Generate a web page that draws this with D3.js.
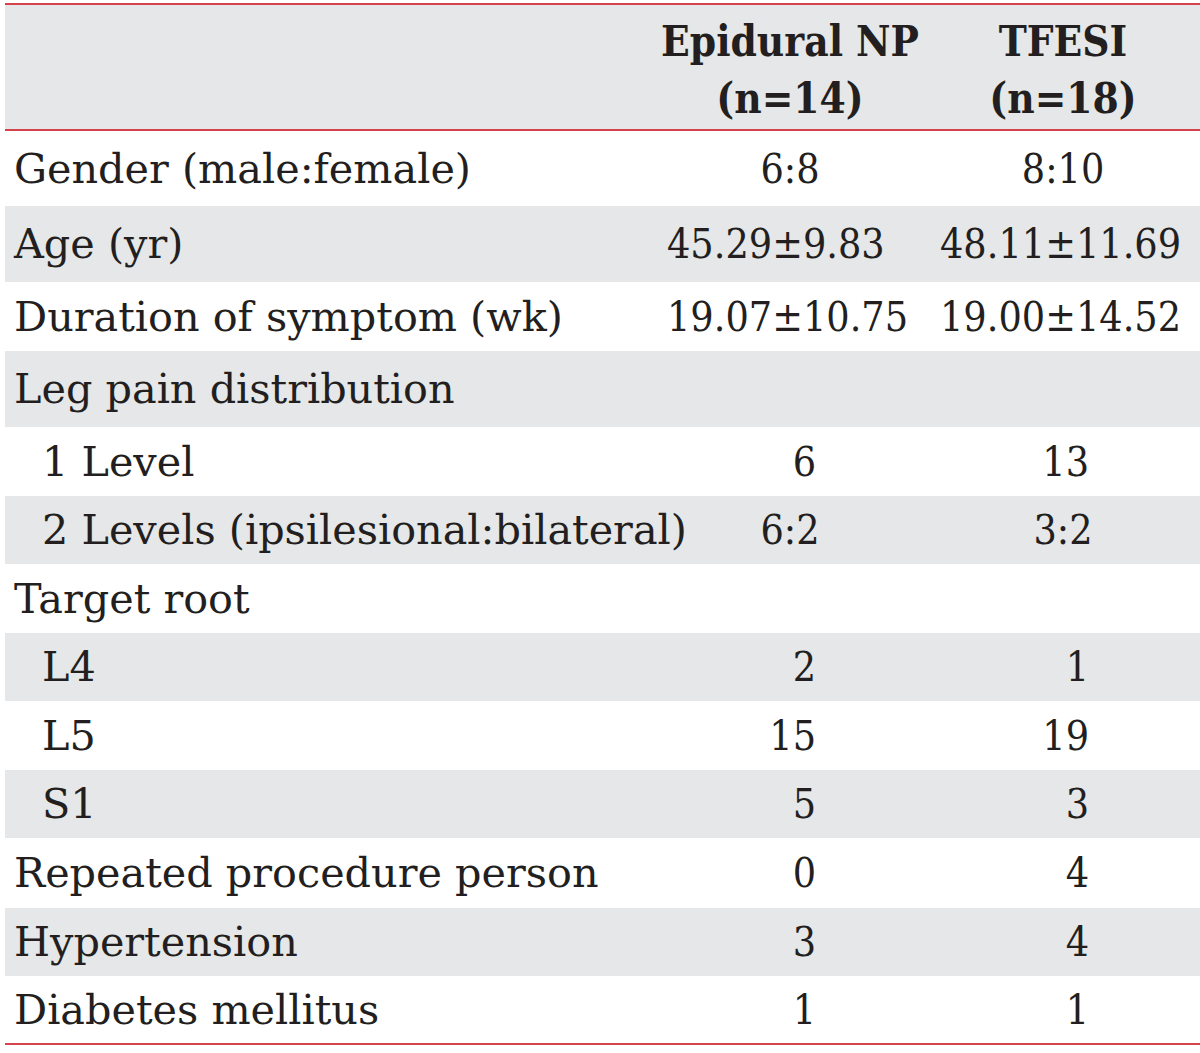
<!DOCTYPE html>
<html><head><meta charset="utf-8">
<script src="https://cdn.jsdelivr.net/npm/d3@7"></script>
<style>html,body{margin:0;padding:0;background:#fff;}svg{display:block;}</style>
</head><body>
<svg id="chart" width="1200" height="1053"></svg>
<script>
const headers = [["Epidural NP", "(n=14)"], ["TFESI", "(n=18)"]];
const rowLabels = ["Gender (male:female)", "Age (yr)", "Duration of symptom (wk)", "Leg pain distribution",
  "1 Level", "2 Levels (ipsilesional:bilateral)", "Target root", "L4", "L5", "S1",
  "Repeated procedure person", "Hypertension", "Diabetes mellitus"];
const rowIndent = [0, 0, 0, 0, 1, 1, 0, 1, 1, 1, 0, 0, 0];
const npValues = ["6:8", "45.29±9.83", "19.07±10.75", "", "6", "6:2", "", "2", "15", "5", "0", "3", "1"];
const tfesiValues = ["8:10", "48.11±11.69", "19.00±14.52", "", "13", "3:2", "", "1", "19", "3", "4", "4", "1"];

// layout (not data): relative row heights as typeset in the original
const rowWeights = [75, 76, 69, 76, 69, 68, 69, 68, 69, 68, 70, 68, 68];

const svg = d3.select("#chart");
const left = 5, right = 1200;
const headTop = 5, headBottom = 130, bodyBottom = 1044;
const red = "#d6424c", gray = "#e6e7e8", ink = "#231f20";
const font = "'DejaVu Serif', serif";

const cum = [0];
rowWeights.forEach(w => cum.push(cum[cum.length - 1] + w));
const yLin = d3.scaleLinear().domain([0, cum[cum.length - 1]]).range([headBottom + 1, bodyBottom]);
const yTop = i => yLin(cum[i]);
const yH = i => yLin(cum[i + 1]) - yLin(cum[i]);
const colX = d3.scaleOrdinal().domain([0, 1]).range([790, 1063]);

// auto font size to match label width
const probe = svg.append("text").attr("font-family", font).attr("font-size", 40).text("Duration of symptom (wk)");
const w40 = probe.node().getComputedTextLength();
probe.remove();
const fs = Math.min(44, 40 * 549 / w40);

const probe2 = svg.append("text").attr("font-family", font).attr("font-size", fs).text("19.07±10.75");
const vw = probe2.node().getComputedTextLength();
probe2.remove();
const vScale = Math.min(1, 241 / vw);

const probe3 = svg.append("text").attr("font-family", font).attr("font-weight", "bold").attr("font-size", fs + 1).text("Epidural NP");
const hw = probe3.node().getComputedTextLength();
probe3.remove();
const hScale = Math.min(1, 258 / hw);

// header background
svg.append("rect").attr("x", left).attr("y", headTop).attr("width", right - left).attr("height", headBottom - headTop).attr("fill", gray);

// row backgrounds
svg.selectAll("rect.row").data(rowLabels).join("rect").attr("class", "row")
  .attr("x", left).attr("width", right - left)
  .attr("y", (d, i) => yTop(i)).attr("height", (d, i) => yH(i))
  .attr("fill", (d, i) => i % 2 === 1 ? gray : "#fff");

// red lines
[headTop - 1, headBottom, bodyBottom].forEach(yy => {
  svg.append("line").attr("x1", left).attr("x2", right).attr("y1", yy).attr("y2", yy)
    .attr("stroke", red).attr("stroke-width", 2.2);
});

// headers
headers.forEach((h, c) => {
  h.forEach((t, k) => {
    svg.append("g").attr("transform", `translate(${colX(c)},${k === 0 ? 56 : 113}) scale(${hScale},1)`)
      .append("text").attr("x", 0).attr("y", 0)
      .attr("text-anchor", "middle").attr("font-family", font).attr("font-weight", "bold")
      .attr("font-size", fs + 1).attr("fill", ink).text(t);
  });
});

const baseY = i => yTop(i) + yH(i) / 2 + fs * 0.34;

// row labels
svg.selectAll("text.lab").data(rowLabels).join("text").attr("class", "lab")
  .attr("x", (d, i) => rowIndent[i] ? 42 : 14)
  .attr("y", (d, i) => baseY(i))
  .attr("font-family", font).attr("font-size", fs).attr("fill", ink).text(d => d);

// values
function anchorInfo(d, c) {
  if (/^\d+$/.test(d)) return ["end", colX(c) + 26];
  if (d.includes("±")) return ["start", colX(c) - 123];
  return ["middle", colX(c)];
}
[npValues, tfesiValues].forEach((vals, c) => {
  svg.selectAll("g.v" + c).data(vals).join("g").attr("class", "v" + c)
    .attr("transform", (d, i) => `translate(${anchorInfo(d, c)[1]},${baseY(i)}) scale(${vScale},1)`)
    .append("text").attr("x", 0).attr("y", 0)
    .attr("text-anchor", d => anchorInfo(d, c)[0])
    .attr("font-family", font).attr("font-size", fs).attr("fill", ink).text(d => d);
});
</script>
</body></html>
